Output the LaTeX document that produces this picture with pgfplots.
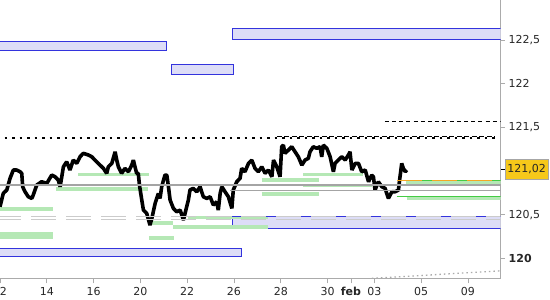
\documentclass[border=0pt]{standalone}
\usepackage{fontspec}
\setmainfont{DejaVu Sans}
\usepackage{pgfplots}
\pgfplotsset{compat=1.18}
\definecolor{axgray}{HTML}{ABABAB}
\definecolor{rblue}{HTML}{3333DD}
\definecolor{rfill}{HTML}{DDDDF7}
\definecolor{lgreen}{HTML}{B5E8B5}
\definecolor{dgreen}{HTML}{44CC44}
\definecolor{lorange}{HTML}{F4A823}
\definecolor{lgray}{HTML}{A4A4A4}
\definecolor{dgray}{HTML}{CBCBCB}
\definecolor{gold}{HTML}{F6C81A}
\pgfplotstableread{
x y
0.00 120.590
0.14 120.744
0.29 120.782
0.43 120.916
0.57 121.011
0.71 121.011
0.86 120.991
0.93 120.973
0.97 120.819
1.07 120.762
1.21 120.705
1.36 120.686
1.42 120.724
1.57 120.839
1.78 120.877
2.00 120.858
2.21 120.953
2.35 120.934
2.49 120.896
2.57 120.819
2.71 121.048
2.85 121.106
2.99 121.011
3.13 121.125
3.28 121.087
3.42 121.163
3.56 121.202
3.78 121.183
3.92 121.163
4.06 121.125
4.20 121.087
4.35 121.048
4.42 121.030
4.56 120.973
4.63 121.048
4.78 121.087
4.92 121.220
4.99 121.125
5.06 121.048
5.20 120.973
5.34 121.030
5.49 120.991
5.63 121.068
5.70 121.125
5.77 121.048
5.84 120.973
5.91 120.973
5.96 120.839
6.06 120.667
6.13 120.552
6.27 120.515
6.41 120.381
6.49 120.457
6.63 120.629
6.77 120.744
6.84 120.686
6.91 120.819
7.05 120.953
7.13 120.953
7.20 120.819
7.27 120.667
7.41 120.572
7.55 120.533
7.70 120.552
7.84 120.438
7.91 120.515
8.05 120.667
8.12 120.782
8.26 120.801
8.41 120.762
8.55 120.819
8.69 120.705
8.84 120.686
8.98 120.705
9.12 120.610
9.26 120.648
9.33 120.552
9.41 120.744
9.48 120.819
9.62 120.762
9.76 120.705
9.91 120.572
9.97 120.782
10.12 120.877
10.26 120.916
10.33 121.030
10.47 120.991
10.62 121.087
10.76 121.125
10.90 121.030
11.04 120.991
11.19 121.048
11.33 120.973
11.47 121.011
11.62 120.934
11.69 121.125
11.83 121.048
11.97 120.934
12.04 121.278
12.11 121.297
12.18 121.202
12.33 121.240
12.47 121.278
12.61 121.220
12.75 121.163
12.90 121.068
13.04 121.125
13.18 121.145
13.25 121.220
13.39 121.278
13.54 121.259
13.68 121.278
13.75 121.163
13.82 121.297
13.97 121.259
14.11 121.163
14.25 120.991
14.32 121.087
14.46 121.125
14.61 121.163
14.75 121.125
14.89 121.183
14.96 121.220
15.04 121.011
15.18 121.087
15.32 121.087
15.46 120.991
15.61 121.011
15.75 120.877
15.89 120.953
15.96 120.934
16.03 120.782
16.17 120.877
16.32 120.819
16.46 120.801
16.60 120.686
16.75 120.762
16.89 120.762
17.03 120.782
17.07 120.877
17.17 121.087
17.24 121.030
17.32 120.991
17.39 121.011
}\price
\begin{document}
\begin{tikzpicture}
\begin{axis}[
  scale only axis, width=500.7pt, height=279pt,
  xmin=0, xmax=21.4, ymin=119.763, ymax=122.958,
  axis x line=bottom, axis y line=right,
  axis line style={-, draw=axgray, line width=1pt},
  tick align=outside, major tick length=4.5pt,
  tick style={draw=axgray, line width=0.8pt},
  xtick={0,2,4,6,8,10,12,14,15,16,18,20},
  xticklabels={12,14,16,20,22,26,28,30,\textbf{feb},03,05,09},
  ytick={120,120.5,121.5,122,122.5},
  yticklabels={\textbf{120},{120{,}5},{121{,}5},122,{122{,}5}},
  ticklabel style={font=\fontsize{11}{13}\selectfont, text=black!85},
  extra y ticks={121.02}, extra y tick labels={121{,}02},
  extra y tick style={tick style={draw=black},
    yticklabel style={fill=gold, draw=gray!70, inner xsep=2pt, minimum height=20pt}},
  clip=true,
]
% blue zones
\addplot[draw=rblue, fill=rfill, line width=1pt] coordinates {(-0.2,122.382)(7.12,122.382)(7.12,122.485)(-0.2,122.485)} -- cycle;
\addplot[draw=rblue, fill=rfill, line width=1pt] coordinates {(7.31,122.102)(9.98,122.102)(9.98,122.221)(7.31,122.221)} -- cycle;
\addplot[draw=rblue, fill=rfill, line width=1pt] coordinates {(9.92,122.508)(21.6,122.508)(21.6,122.634)(9.92,122.634)} -- cycle;
\addplot[draw=rblue, fill=rfill, line width=1pt] coordinates {(-0.2,120.022)(10.32,120.022)(10.32,120.117)(-0.2,120.117)} -- cycle;
\addplot[draw=rblue, fill=rfill, line width=1pt] coordinates {(9.92,120.338)(21.6,120.338)(21.6,120.480)(9.92,120.480)} -- cycle;
% green bars
\addplot[lgreen, line width=4pt] coordinates {(0,120.567)(2.27,120.567)};
\addplot[lgreen, line width=6.5pt] coordinates {(0,120.263)(2.27,120.263)};
\addplot[lgreen, line width=4pt] coordinates {(2.385,120.796)(6.318,120.796)};
\addplot[lgreen, line width=3pt] coordinates {(3.338,120.959)(6.36,120.959)};
\addplot[lgreen, line width=4.3pt] coordinates {(6.476,120.401)(7.40,120.401)};
\addplot[lgreen, line width=3.7pt] coordinates {(6.36,120.233)(7.43,120.233)};
\addplot[lgreen, line width=4.3pt] coordinates {(7.40,120.355)(11.46,120.355)};
\addplot[lgreen, line width=3pt] coordinates {(8.04,120.467)(11.46,120.467)};
\addplot[lgreen, line width=3.4pt] coordinates {(11.18,120.896)(13.63,120.896)};
\addplot[lgreen, line width=4pt] coordinates {(11.18,120.739)(13.63,120.739)};
\addplot[lgreen, line width=2.7pt] coordinates {(12.96,120.959)(15.52,120.959)};
\addplot[lgreen, line width=2.7pt] coordinates {(12.96,120.835)(15.88,120.835)};
\addplot[lgreen, line width=2.7pt] coordinates {(17.35,120.870)(21.5,120.870)};
\addplot[lgreen, line width=2.7pt] coordinates {(17.38,120.686)(21.5,120.686)};
% price
\addplot[black, line width=3.6pt, line join=bevel] table[x=x, y=y] {\price};
% gray lines
\addplot[lgray, line width=1.3pt] coordinates {(0,120.839)(21.5,120.839)};
\addplot[lgray, line width=1.3pt] coordinates {(9.82,120.778)(21.5,120.778)};
\addplot[rblue, line width=1pt] coordinates {(9.92,120.480)(21.5,120.480)};
\addplot[dgray, line width=1.3pt, dash pattern=on 25pt off 10pt, dash phase=4pt] coordinates {(0,120.476)(21.5,120.476)};
\addplot[dgray, line width=1.3pt, dash pattern=on 25pt off 10pt, dash phase=4pt] coordinates {(0,120.446)(21.5,120.446)};
% last-price lines
\addplot[dgreen, line width=1.3pt] coordinates {(16.98,120.893)(21.5,120.893)};
\addplot[lorange, line width=1.3pt, dash pattern=on 25pt off 10pt] coordinates {(16.98,120.893)(21.5,120.893)};
\addplot[dgreen, line width=1.3pt] coordinates {(16.95,120.709)(21.5,120.709)};
% dotted / dashed black
\addplot[black, line width=2pt, dash pattern=on 2.7pt off 4.8pt] coordinates {(0.2,121.381)(21.15,121.381)};
\addplot[black, line width=1pt, dash pattern=on 5pt off 2.5pt] coordinates {(11.83,121.400)(21.15,121.400)};
\addplot[black, line width=1pt, dash pattern=on 4pt off 3.2pt] coordinates {(16.45,121.572)(21.5,121.572)};
\addplot[axgray, line width=1.3pt, dash pattern=on 1.5pt off 3pt] coordinates {(15.9,119.770)(21.4,119.857)};
\end{axis}
\pgfresetboundingbox
\path[use as bounding box] (0,-21pt) rectangle (550pt,279pt);
\end{tikzpicture}
\end{document}
